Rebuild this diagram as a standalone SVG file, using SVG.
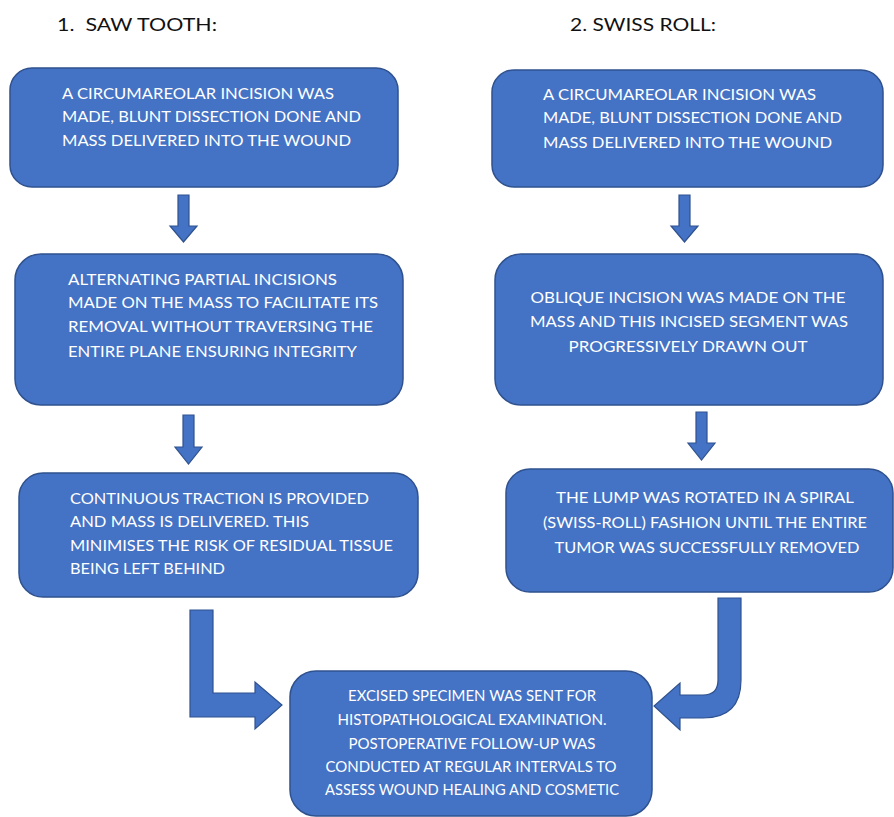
<svg xmlns="http://www.w3.org/2000/svg" width="894" height="817" viewBox="0 0 894 817">
<style>
.box{fill:#4472C4;stroke:#2F528F;stroke-width:1.5}
.arr{fill:#4472C4;stroke:#2F528F;stroke-width:1.2}
.t{font-family:Lato,"Liberation Sans",sans-serif;font-size:15px;fill:#FFFFFF}
.c{text-anchor:middle}
.h{font-family:Lato,"Liberation Sans",sans-serif;font-size:18px;fill:#111111;white-space:pre}
</style>
<rect width="894" height="817" fill="#FFFFFF"/>
<text class="h" x="57" y="31" xml:space="preserve" textLength="160" lengthAdjust="spacingAndGlyphs">1.  SAW TOOTH:</text>
<text class="h" x="570" y="31" textLength="146" lengthAdjust="spacingAndGlyphs">2. SWISS ROLL:</text>
<g id="connectors">
<polygon class="arr" points="178,195 189,195 189,226 197,226 183.5,242 170,226 178,226"/>
<polygon class="arr" points="679,195 690,195 690,226 698,226 684.5,242 671,226 679,226"/>
<polygon class="arr" points="183,415 194,415 194,447 202,447 188.5,464 175,447 183,447"/>
<polygon class="arr" points="696,412 707,412 707,443 715,443 701.5,460 688,443 696,443"/>
<polygon class="arr" points="190,610 213,610 213,693 255,693 255,682 282,705 255,729 255,717 190,717"/>
<path class="arr" d="M718,598 H741 V680 Q741,718 703,718 H680 V730 L654,706 L680,683 V695 H703 Q718,695 718,680 Z"/>
</g>
<g id="n1">
<rect class="box" x="10" y="68" width="388" height="119" rx="22"/>
<text class="t" x="62" y="99" textLength="272" lengthAdjust="spacingAndGlyphs">A CIRCUMAREOLAR INCISION WAS</text>
<text class="t" x="62" y="122" textLength="299" lengthAdjust="spacingAndGlyphs">MADE, BLUNT DISSECTION DONE AND</text>
<text class="t" x="62" y="146" textLength="289" lengthAdjust="spacingAndGlyphs">MASS DELIVERED INTO THE WOUND</text>
</g>
<g id="n2">
<rect class="box" x="492" y="70" width="391" height="117" rx="22"/>
<text class="t" x="543" y="100" textLength="273" lengthAdjust="spacingAndGlyphs">A CIRCUMAREOLAR INCISION WAS</text>
<text class="t" x="543" y="123" textLength="299" lengthAdjust="spacingAndGlyphs">MADE, BLUNT DISSECTION DONE AND</text>
<text class="t" x="543" y="148" textLength="289" lengthAdjust="spacingAndGlyphs">MASS DELIVERED INTO THE WOUND</text>
</g>
<g id="n3">
<rect class="box" x="15" y="254" width="388" height="151" rx="26"/>
<text class="t" x="68" y="285" textLength="269" lengthAdjust="spacingAndGlyphs">ALTERNATING PARTIAL INCISIONS</text>
<text class="t" x="68" y="308" textLength="310" lengthAdjust="spacingAndGlyphs">MADE ON THE MASS TO FACILITATE ITS</text>
<text class="t" x="68" y="332" textLength="305" lengthAdjust="spacingAndGlyphs">REMOVAL WITHOUT TRAVERSING THE</text>
<text class="t" x="68" y="357" textLength="289" lengthAdjust="spacingAndGlyphs">ENTIRE PLANE ENSURING INTEGRITY</text>
</g>
<g id="n4">
<rect class="box" x="495" y="254" width="388" height="151" rx="26"/>
<text class="t c" x="688" y="303" textLength="315" lengthAdjust="spacingAndGlyphs">OBLIQUE INCISION WAS MADE ON THE</text>
<text class="t c" x="689" y="327" textLength="318" lengthAdjust="spacingAndGlyphs">MASS AND THIS INCISED SEGMENT WAS</text>
<text class="t c" x="688" y="352" textLength="239" lengthAdjust="spacingAndGlyphs">PROGRESSIVELY DRAWN OUT</text>
</g>
<g id="n5">
<rect class="box" x="19" y="473" width="399" height="124" rx="24"/>
<text class="t" x="70" y="504" textLength="299" lengthAdjust="spacingAndGlyphs">CONTINUOUS TRACTION IS PROVIDED</text>
<text class="t" x="70" y="527" textLength="239" lengthAdjust="spacingAndGlyphs">AND MASS IS DELIVERED. THIS</text>
<text class="t" x="70" y="551" textLength="323" lengthAdjust="spacingAndGlyphs">MINIMISES THE RISK OF RESIDUAL TISSUE</text>
<text class="t" x="70" y="574" textLength="155" lengthAdjust="spacingAndGlyphs">BEING LEFT BEHIND</text>
</g>
<g id="n6">
<rect class="box" x="506" y="469" width="387" height="123" rx="24"/>
<text class="t c" x="705" y="503" textLength="298" lengthAdjust="spacingAndGlyphs">THE LUMP WAS ROTATED IN A SPIRAL</text>
<text class="t c" x="705" y="528" textLength="324" lengthAdjust="spacingAndGlyphs">(SWISS-ROLL) FASHION UNTIL THE ENTIRE</text>
<text class="t c" x="707" y="553" textLength="305" lengthAdjust="spacingAndGlyphs">TUMOR WAS SUCCESSFULLY REMOVED</text>
</g>
<g id="n7">
<rect class="box" x="290" y="671" width="362" height="145" rx="26"/>
<text class="t c" x="472" y="701" textLength="248" lengthAdjust="spacingAndGlyphs">EXCISED SPECIMEN WAS SENT FOR</text>
<text class="t c" x="472" y="725" textLength="269" lengthAdjust="spacingAndGlyphs">HISTOPATHOLOGICAL EXAMINATION.</text>
<text class="t c" x="472" y="749" textLength="247" lengthAdjust="spacingAndGlyphs">POSTOPERATIVE FOLLOW-UP WAS</text>
<text class="t c" x="471" y="772" textLength="291" lengthAdjust="spacingAndGlyphs">CONDUCTED AT REGULAR INTERVALS TO</text>
<text class="t c" x="472" y="795" textLength="294" lengthAdjust="spacingAndGlyphs">ASSESS WOUND HEALING AND COSMETIC</text>
</g>
</svg>
